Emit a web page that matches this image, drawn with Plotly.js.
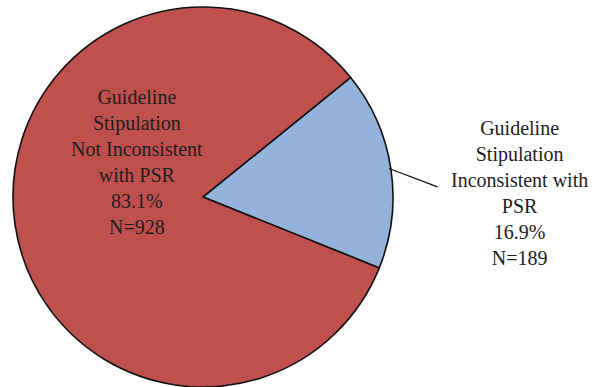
<!DOCTYPE html>
<html>
<head>
<meta charset="utf-8">
<script src="https://cdn.plot.ly/plotly-3.0.1.min.js"></script>
<style>
html,body{margin:0;padding:0;background:#fff;}
#chart{width:594px;height:387px;}
#chart .annotation-text, #chart .annotation-text tspan { font-family: "Liberation Serif", "Times New Roman", serif !important; }
</style>
</head>
<body>
<div id="chart"></div>
<script>
// Data
var labels = ["Guideline<br>Stipulation<br>Inconsistent with<br>PSR", "Guideline<br>Stipulation<br>Not Inconsistent<br>with PSR"];
var counts = [189, 928];
var percents = ["16.9%", "83.1%"];
var colors = ["#93B3DA", "#C0504D"];

function makeFont() {
  return {family: "Liberation Serif", size: 20, color: "#1e1e1e"};
}

var trace = {
  type: "pie",
  values: counts,
  labels: labels,
  sort: false,
  direction: "clockwise",
  rotation: 51,
  textinfo: "none",
  hoverinfo: "label+percent",
  marker: {colors: colors, line: {color: "#111", width: 1.6}},
  showlegend: false,
  domain: {x: [13/594, 393/594], y: [0, 0.982]}
};

function labelText(i) {
  return labels[i] + "<br>" + percents[i] + "<br>N=" + counts[i];
}

var layout = {
  width: 594, height: 387,
  margin: {l: 0, r: 0, t: 0, b: 0},
  paper_bgcolor: "#fff",
  showlegend: false,
  annotations: [
    {
      xref: "paper", yref: "paper",
      x: 137/594, y: 1 - 162/387,
      xanchor: "center", yanchor: "middle",
      text: labelText(1), showarrow: false,
      font: makeFont(), align: "center"
    },
    {
      xref: "paper", yref: "paper",
      x: 519.5/594, y: 1 - 193/387,
      xanchor: "center", yanchor: "middle",
      text: labelText(0), showarrow: false,
      font: makeFont(), align: "center"
    },
    {
      // leader line
      xref: "paper", yref: "paper",
      x: 389/594, y: 1 - 168.5/387,
      text: " ", font: {size: 1},
      showarrow: true, arrowhead: 0, arrowwidth: 1.3, arrowcolor: "#111",
      ax: 50, ay: 19, standoff: 0
    }
  ]
};

Plotly.newPlot("chart", [trace], layout, {displayModeBar: false, staticPlot: true});
</script>
</body>
</html>
